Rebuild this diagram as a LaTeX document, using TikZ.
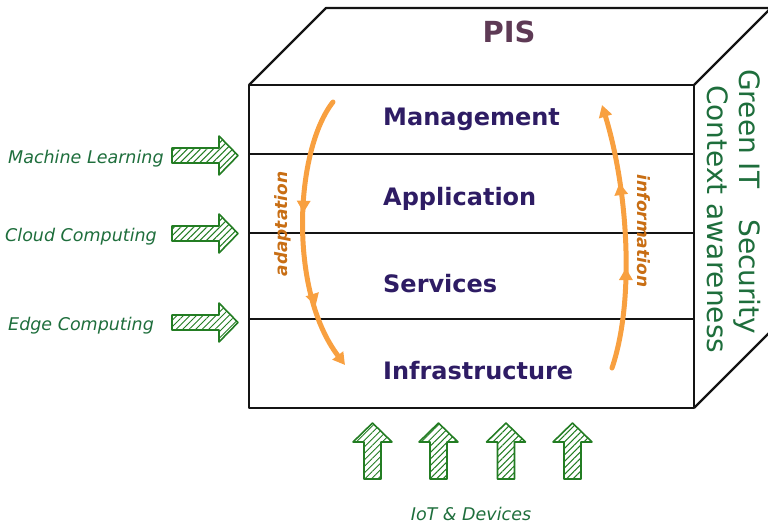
\documentclass[tikz,border=0pt]{standalone}
\usepackage{fontspec}
\setmainfont{DejaVu Sans}
\usetikzlibrary{arrows.meta,patterns.meta,decorations.markings}

\definecolor{boxline}{RGB}{20,20,20}
\definecolor{layertext}{RGB}{46,28,100}
\definecolor{pistext}{RGB}{94,58,85}
\definecolor{techgreen}{RGB}{30,110,60}
\definecolor{hatchgreen}{RGB}{35,125,35}
\definecolor{flow}{RGB}{248,160,64}
\definecolor{flowtext}{RGB}{200,110,20}

\tikzset{flowtip/.tip={Triangle[length=12pt,width=13pt]}}

\begin{document}
\begin{tikzpicture}[x=1pt,y=-1pt,
  edge/.style={draw=boxline,line width=2.4pt,line join=round},
  layer/.style={anchor=base west,inner sep=0pt,text=layertext,
    font=\fontsize{24}{28}\selectfont\bfseries},
  tech/.style={inner sep=0pt,text=techgreen,
    font=\fontsize{17.5}{21}\selectfont\itshape},
  aspect/.style={anchor=base west,inner sep=0pt,rotate=-90,text=techgreen,
    font=\fontsize{28}{32}\selectfont},
  flowlabel/.style={inner sep=0pt,text=flowtext,
    font=\fontsize{17}{20}\selectfont\bfseries\itshape},
  hatched/.style={draw=hatchgreen,line width=1.6pt,line join=round,
    pattern={Lines[angle=45,distance=4.6pt,line width=1pt]},
    pattern color=hatchgreen},
  flowline/.style={draw=flow,line width=5pt,line cap=round,-flowtip},
  pics/rightarrow/.style={code={
    \path[hatched] (0,-7.5) -- (47,-7.5) -- (47,-19.5) -- (66,0)
      -- (47,19.5) -- (47,7.5) -- (0,7.5) -- cycle;}},
  pics/uparrow/.style={code={
    \path[hatched] (-8.5,0) -- (-8.5,-37) -- (-19.5,-37) -- (0,-56)
      -- (19.5,-37) -- (8.5,-37) -- (8.5,0) -- cycle;}},
]
\clip (0,0) rectangle (768,525);
\useasboundingbox (0,0) rectangle (768,525);

% cube corners
\coordinate (ftl) at (249,85);
\coordinate (ftr) at (694,85);
\coordinate (fbr) at (694,408);
\coordinate (fbl) at (249,408);
\coordinate (btl) at (326,8);
\coordinate (btr) at (771,8);
\coordinate (bbr) at (771,331);

% layer boundaries on the front face
\coordinate (l1w) at (249,154); \coordinate (l1e) at (694,154);
\coordinate (l2w) at (249,233); \coordinate (l2e) at (694,233);
\coordinate (l3w) at (249,319); \coordinate (l3e) at (694,319);

\draw[edge] (ftl) -- (ftr) -- (fbr) -- (fbl) -- cycle;
\draw[edge] (ftl) -- (btl) -- (btr) -- (ftr);
\draw[edge] (btr) -- (bbr) -- (fbr);
\draw[edge] (l1w) -- (l1e);
\draw[edge] (l2w) -- (l2e);
\draw[edge] (l3w) -- (l3e);

% title on the top face
\node[anchor=base,inner sep=0pt,text=pistext,
  font=\fontsize{29}{34}\selectfont\bfseries] (pis) at (509,42) {PIS};

% layers
\node[layer] (mgmt)  at (383,125) {Management};
\node[layer] (app)   at (383,205) {Application};
\node[layer] (srv)   at (383,292) {Services};
\node[layer] (infra) at (383,379) {Infrastructure};

% cross-cutting aspects on the side face
\node[aspect] (green) at (739,69) {Green IT\hspace{31pt}Security};
\node[aspect] (ctx)   at (707,85) {Context awareness};

% enabling technologies
\node[tech,anchor=base west] (ml) at (8,163) {Machine Learning};
\node[tech,anchor=base west] (cc) at (5,241) {Cloud Computing};
\node[tech,anchor=base west] (ec) at (8,330) {Edge Computing};
\pic at (172,155.5) {rightarrow};
\pic at (172,233.5) {rightarrow};
\pic at (172,322.5) {rightarrow};

% devices feeding the infrastructure
\pic at (372.5,479) {uparrow};
\pic at (438.5,479) {uparrow};
\pic at (506,479)   {uparrow};
\pic at (572.5,479) {uparrow};
\node[tech,anchor=base] (iot) at (471,520) {IoT \& Devices};

% adaptation / information loops
\coordinate (adaptA) at (333,102);
\coordinate (adaptB) at (345,365);
\coordinate (infoA)  at (612,368);
\coordinate (infoB)  at (602,105);

\draw[flowline,postaction={decorate},decoration={markings,
    mark=at position 0.42 with {\arrow{flowtip}},
    mark=at position 0.76 with {\arrow{flowtip}}}]
  (adaptA) .. controls (295,150) and (288,290) .. (adaptB);
\draw[flowline,postaction={decorate},decoration={markings,
    mark=at position 0.38 with {\arrow{flowtip}},
    mark=at position 0.70 with {\arrow{flowtip}}}]
  (infoA) .. controls (635,300) and (628,190) .. (infoB);

\node[flowlabel,rotate=90]  (adl) at (282.5,224) {adaptation};
\node[flowlabel,rotate=-90] (inl) at (643.5,231) {information};
\end{tikzpicture}
\end{document}
